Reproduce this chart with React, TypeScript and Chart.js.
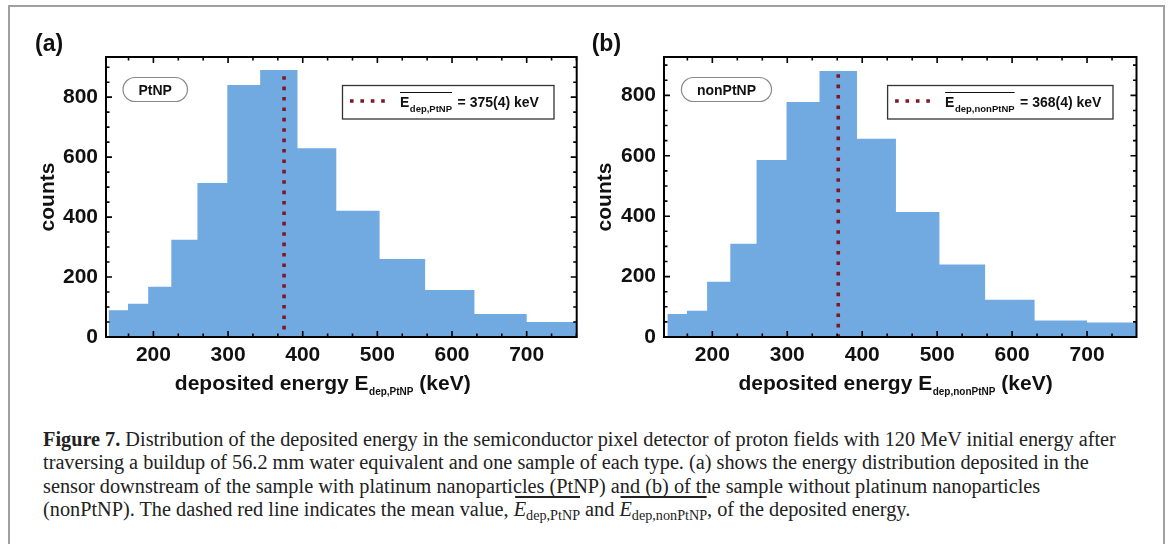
import { useEffect, useRef } from 'react';
import { Chart, registerables } from 'chart.js';

Chart.register(...registerables);

// ---- data ----
const BIN_EDGES = [140, 166, 193, 224, 259, 299, 343, 393, 445, 503, 564, 630, 700, 767];
const COUNTS_PTNP = [89, 111, 168, 324, 514, 841, 891, 630, 421, 260, 157, 77, 50];
const COUNTS_NONPTNP = [76, 87, 183, 309, 586, 778, 881, 656, 414, 240, 123, 55, 48];
const MEAN_PTNP = 375;
const MEAN_NONPTNP = 368;
const MEAN_LINE_TOP = 870;
const X_TICKS = [200, 300, 400, 500, 600, 700];
const Y_TICKS = [0, 200, 400, 600, 800];
const X_RANGE_A = [136.5, 767];
const X_RANGE_B = [135.5, 766];
const Y_MAX_A = 934;
const Y_MAX_B = 927;

// ---- styles ----
const SANS = '"Liberation Sans", Arial, sans-serif';
const TEXT_COLOR = '#111';
const BAR_COLOR = '#71a9e1';
const MEAN_COLOR = '#7d1828';
const DOT_DASH = [3.6, 6.8];

type Panel = {
  counts: number[];
  mean: number;
  meanLabel: string;
  xRange: number[];
  yMax: number;
  yAxisWidth: number;
  padRight: number;
  yTitlePad: number;
  letter: string;
  letterX: number;
  pill: string;
  pillX: number;
  sub: string;
  legendX: number;
  legendW: number;
  titleCX: number;
};

function histogramPoints(counts: number[]) {
  return BIN_EDGES.map((e, i) => ({ x: e, y: counts[Math.min(i, counts.length - 1)] }));
}

function makeConfig(p: Panel): any {
  const decor = {
    id: 'decor',
    afterDraw(chart: any) {
      const { ctx, chartArea: ca } = chart;
      const xs = chart.scales.x;
      const ys = chart.scales.y;
      ctx.save();
      // tick marks (inward, all four sides)
      ctx.strokeStyle = '#000';
      ctx.lineWidth = 1.6;
      ctx.beginPath();
      const k0 = Math.ceil((xs.min * 3) / 100);
      const k1 = Math.floor((xs.max * 3) / 100);
      for (let k = k0; k <= k1; k++) {
        const px = xs.getPixelForValue((k * 100) / 3);
        const len = k % 3 === 0 ? 6 : 3.5;
        ctx.moveTo(px, ca.bottom);
        ctx.lineTo(px, ca.bottom - len);
        ctx.moveTo(px, ca.top);
        ctx.lineTo(px, ca.top + len);
      }
      for (let v = 50; v < ys.max; v += 50) {
        const py = ys.getPixelForValue(v);
        const len = v % 200 === 0 ? 6 : 3.5;
        ctx.moveTo(ca.left, py);
        ctx.lineTo(ca.left + len, py);
        ctx.moveTo(ca.right, py);
        ctx.lineTo(ca.right - len, py);
      }
      ctx.stroke();
      // frame
      ctx.lineWidth = 2;
      ctx.strokeRect(ca.left, ca.top, ca.right - ca.left, ca.bottom - ca.top);

      // pill label
      ctx.font = `bold 14px ${SANS}`;
      const tw = ctx.measureText(p.pill).width;
      const pw = tw + 31;
      const ph = 24;
      const px0 = p.pillX;
      const py0 = 77.5;
      const r = ph / 2;
      ctx.beginPath();
      ctx.moveTo(px0 + r, py0);
      ctx.lineTo(px0 + pw - r, py0);
      ctx.arc(px0 + pw - r, py0 + r, r, -Math.PI / 2, Math.PI / 2);
      ctx.lineTo(px0 + r, py0 + ph);
      ctx.arc(px0 + r, py0 + r, r, Math.PI / 2, (3 * Math.PI) / 2);
      ctx.closePath();
      ctx.fillStyle = '#fff';
      ctx.fill();
      ctx.strokeStyle = '#8a8a8a';
      ctx.lineWidth = 1.2;
      ctx.stroke();
      ctx.fillStyle = TEXT_COLOR;
      ctx.textBaseline = 'alphabetic';
      ctx.textAlign = 'left';
      ctx.fillText(p.pill, px0 + (pw - tw) / 2, 94.5);

      // legend box
      const bx = p.legendX;
      const by = 85.5;
      const bh = 33.5;
      ctx.fillStyle = '#fff';
      ctx.fillRect(bx, by, p.legendW, bh);
      ctx.strokeStyle = '#333';
      ctx.lineWidth = 1.3;
      ctx.strokeRect(bx, by, p.legendW, bh);
      ctx.strokeStyle = MEAN_COLOR;
      ctx.lineWidth = 3.6;
      ctx.setLineDash(DOT_DASH);
      ctx.beginPath();
      ctx.moveTo(bx + 7.5, by + 15.5);
      ctx.lineTo(bx + 43, by + 15.5);
      ctx.stroke();
      ctx.setLineDash([]);
      const ex = bx + 57.5;
      ctx.fillStyle = TEXT_COLOR;
      ctx.font = `bold 14px ${SANS}`;
      ctx.fillText('E', ex, 107);
      const ew = ctx.measureText('E').width;
      ctx.font = `bold 9.5px ${SANS}`;
      ctx.fillText(p.sub, ex + ew + 0.5, 111.5);
      const sw = ctx.measureText(p.sub).width;
      ctx.strokeStyle = TEXT_COLOR;
      ctx.lineWidth = 1;
      ctx.beginPath();
      ctx.moveTo(ex, 92.5);
      ctx.lineTo(ex + ew + 0.5 + sw, 92.5);
      ctx.stroke();
      ctx.font = `bold 14px ${SANS}`;
      ctx.fillText(p.meanLabel, ex + ew + sw + 6, 107);

      // x-axis title with subscript
      const mainT = 'deposited energy E';
      const tailT = ' (keV)';
      ctx.font = `bold 21px ${SANS}`;
      const mw = ctx.measureText(mainT).width;
      const tlw = ctx.measureText(tailT).width;
      ctx.font = `bold 10px ${SANS}`;
      const subw = ctx.measureText(p.sub).width;
      let tx = p.titleCX - (mw + subw + tlw) / 2;
      ctx.font = `bold 21px ${SANS}`;
      ctx.fillText(mainT, tx, 389.5);
      tx += mw + 0.5;
      ctx.font = `bold 10px ${SANS}`;
      ctx.fillText(p.sub, tx, 395);
      tx += subw;
      ctx.font = `bold 21px ${SANS}`;
      ctx.fillText(tailT, tx, 389.5);

      // panel letter
      ctx.font = `bold 23px ${SANS}`;
      ctx.fillText(p.letter, p.letterX, 51);
      ctx.restore();
    },
  };

  const tickFont = { family: SANS, size: 21, weight: 'bold' as const };

  return {
    type: 'line',
    data: {
      datasets: [
        {
          data: [
            { x: p.mean, y: MEAN_LINE_TOP },
            { x: p.mean, y: 0 },
          ],
          borderColor: MEAN_COLOR,
          borderWidth: 3.6,
          borderDash: DOT_DASH,
          borderCapStyle: 'butt',
          pointRadius: 0,
          fill: false,
          tension: 0,
        },
        {
          data: histogramPoints(p.counts),
          stepped: 'before',
          fill: 'origin',
          backgroundColor: BAR_COLOR,
          borderColor: 'rgba(0,0,0,0)',
          borderWidth: 0,
          pointRadius: 0,
        },
      ],
    },
    options: {
      animation: false,
      responsive: false,
      maintainAspectRatio: false,
      devicePixelRatio: 1,
      events: [],
      layout: { padding: { left: 0, top: 57, right: p.padRight, bottom: 0 } },
      plugins: {
        legend: { display: false },
        tooltip: { enabled: false },
        title: { display: false },
      },
      scales: {
        x: {
          type: 'linear',
          min: p.xRange[0],
          max: p.xRange[1],
          afterBuildTicks: (s: any) => {
            s.ticks = X_TICKS.map((v) => ({ value: v }));
          },
          afterFit: (s: any) => {
            s.height = 83;
          },
          grid: { display: false, drawTicks: false, tickLength: 0 },
          border: { display: false },
          ticks: {
            font: tickFont,
            color: TEXT_COLOR,
            padding: 6,
            maxRotation: 0,
            autoSkip: false,
            includeBounds: false,
          },
        },
        y: {
          type: 'linear',
          min: 0,
          max: p.yMax,
          afterBuildTicks: (s: any) => {
            s.ticks = Y_TICKS.map((v) => ({ value: v }));
          },
          afterFit: (s: any) => {
            s.width = p.yAxisWidth;
          },
          grid: { display: false, drawTicks: false, tickLength: 0 },
          border: { display: false },
          ticks: {
            font: tickFont,
            color: TEXT_COLOR,
            padding: 8,
            autoSkip: false,
            includeBounds: false,
          },
          title: {
            display: true,
            text: 'counts',
            color: TEXT_COLOR,
            font: tickFont,
            padding: { top: p.yTitlePad, bottom: 0 },
          },
        },
      },
    },
    plugins: [decor],
  };
}

const PANEL_A: Panel = {
  counts: COUNTS_PTNP,
  mean: MEAN_PTNP,
  meanLabel: '= 375(4) keV',
  xRange: X_RANGE_A,
  yMax: Y_MAX_A,
  yAxisWidth: 106,
  padRight: 3.3,
  yTitlePad: 36,
  letter: '(a)',
  letterX: 35,
  pill: 'PtNP',
  pillX: 123,
  sub: 'dep,PtNP',
  legendX: 342.5,
  legendW: 211.5,
  titleCX: 322.5,
};

const PANEL_B: Panel = {
  counts: COUNTS_NONPTNP,
  mean: MEAN_NONPTNP,
  meanLabel: '= 368(4) keV',
  xRange: X_RANGE_B,
  yMax: Y_MAX_B,
  yAxisWidth: 84,
  padRight: 31.5,
  yTitlePad: 13,
  letter: '(b)',
  letterX: 11.7,
  pill: 'nonPtNP',
  pillX: 101.4,
  sub: 'dep,nonPtNP',
  legendX: 307.6,
  legendW: 225.4,
  titleCX: 315.3,
};

const CAPTION_WIDTH = 1073;

function Ebar({ sub }: { sub: string }) {
  return (
    <span style={{ position: 'relative', display: 'inline-block', lineHeight: '20px' }}>
      <span
        style={{
          position: 'absolute',
          left: 1,
          right: 0,
          top: -3,
          borderTop: '2px solid #222',
        }}
      />
      <i>E</i>
      <span style={{ fontSize: '14px', verticalAlign: '-4px' }}>{sub}</span>
    </span>
  );
}

export default function App() {
  const refA = useRef<HTMLCanvasElement>(null);
  const refB = useRef<HTMLCanvasElement>(null);
  const capRef = useRef<HTMLDivElement>(null);
  const line1Ref = useRef<HTMLSpanElement>(null);

  useEffect(() => {
    const a = new Chart(refA.current as HTMLCanvasElement, makeConfig(PANEL_A));
    const b = new Chart(refB.current as HTMLCanvasElement, makeConfig(PANEL_B));
    if (line1Ref.current && capRef.current) {
      const w = line1Ref.current.offsetWidth;
      if (w > 0) capRef.current.style.transform = `scaleX(${CAPTION_WIDTH / w})`;
    }
    return () => {
      a.destroy();
      b.destroy();
    };
  }, []);

  return (
    <div
      style={{
        position: 'absolute',
        left: 0,
        top: 0,
        width: 1168,
        height: 544,
        overflow: 'hidden',
        background: '#fff',
      }}
    >
      <div
        style={{
          position: 'absolute',
          left: 8,
          top: 5,
          width: 1157,
          height: 600,
          boxSizing: 'border-box',
          border: '2px solid #a0a0a0',
          borderBottom: 'none',
        }}
      />
      <canvas
        ref={refA}
        width={580}
        height={420}
        style={{ position: 'absolute', left: 0, top: 0, width: 580, height: 420 }}
      />
      <canvas
        ref={refB}
        width={588}
        height={420}
        style={{ position: 'absolute', left: 580, top: 0, width: 588, height: 420 }}
      />
      <div
        ref={capRef}
        style={{
          position: 'absolute',
          left: 43,
          top: 428,
          fontFamily: '"Liberation Serif", "Times New Roman", serif',
          fontSize: 20,
          lineHeight: '23.3px',
          color: '#222',
          whiteSpace: 'nowrap',
          transformOrigin: '0 0',
        }}
      >
        <div>
          <span ref={line1Ref} style={{ display: 'inline-block' }}>
            <b>Figure 7.</b> Distribution of the deposited energy in the semiconductor pixel detector of
            proton fields with 120 MeV initial energy after
          </span>
        </div>
        <div>
          traversing a buildup of 56.2 mm water equivalent and one sample of each type. (a) shows the
          energy distribution deposited in the
        </div>
        <div>
          sensor downstream of the sample with platinum nanoparticles (PtNP) and (b) of the sample
          without platinum nanoparticles
        </div>
        <div>
          (nonPtNP). The dashed red line indicates the mean value, <Ebar sub="dep,PtNP" /> and{' '}
          <Ebar sub="dep,nonPtNP" />, of the deposited energy.
        </div>
      </div>
    </div>
  );
}
